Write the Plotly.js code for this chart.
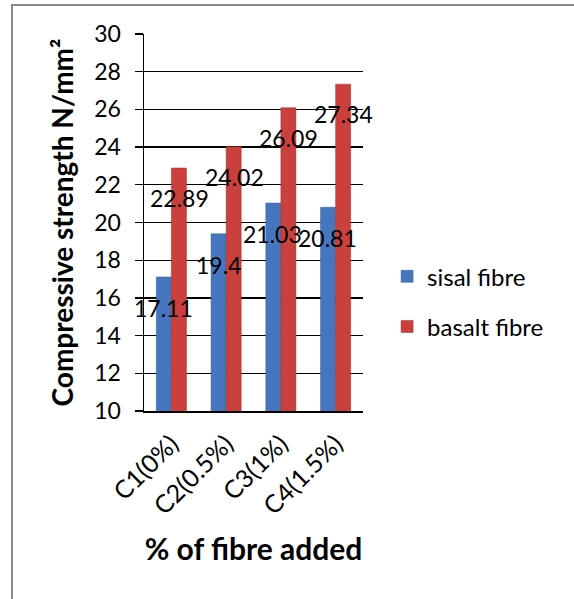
<!DOCTYPE html>
<html><head><meta charset="utf-8">
<script src="https://cdn.plot.ly/plotly-3.0.1.min.js"></script>
<style>
html,body{margin:0;padding:0;background:#fff;}
#wrap{position:relative;width:574px;height:599px;overflow:hidden;}
#chart{position:absolute;left:0;top:0;width:574px;height:599px;}
#frame{position:absolute;left:11px;top:4px;width:600px;height:650px;border-left:2px solid #8c8c8c;border-top:2px solid #8c8c8c;pointer-events:none;}
</style></head>
<body><div id="wrap"><div id="chart"></div><div id="frame"></div></div>
<script>
const categories = ['C1(0%)', 'C2(0.5%)', 'C3(1%)', 'C4(1.5%)'];
const sisal = [17.11, 19.4, 21.03, 20.81];
const basalt = [22.89, 24.02, 26.09, 27.34];
const sisalLabels = ['17.11', '19.4', '21.03', '20.81'];
const basaltLabels = ['22.89', '24.02', '26.09', '27.34'];
const yTicks = [10, 12, 14, 16, 18, 20, 22, 24, 26, 28, 30];

const FONT = 'Lato, Carlito, Calibri, "DejaVu Sans", sans-serif';

const traces = [
  {type:'bar', name:'sisal fibre', x:categories, y:sisal, legendgroup:'a',
   marker:{color:'#4677BE', line:{color:'#2F5C9C', width:0.5}}, hoverinfo:'skip'},
  {type:'bar', name:'basalt fibre', x:categories, y:basalt, legendgroup:'b',
   marker:{color:'#C9403D', line:{color:'#A02C2A', width:0.5}}, hoverinfo:'skip'}
];

const annotations = [];
categories.forEach((c, i) => {
  annotations.push({x:c, y:sisal[i], xref:'x', yref:'y', text:sisalLabels[i], showarrow:false,
    xshift:-8, yshift:-31, font:{family:FONT, size:23, color:'#000'}});
  annotations.push({x:c, y:basalt[i], xref:'x', yref:'y', text:basaltLabels[i], showarrow:false,
    xshift:8, yshift:-30, font:{family:FONT, size:23, color:'#000'}});
});

const layout = {
  width:574, height:599,
  margin:{l:144, r:211, t:34, b:188},
  paper_bgcolor:'rgba(0,0,0,0)', plot_bgcolor:'#fff',
  font:{family:FONT, size:23, color:'#000'},
  barmode:'group', bargap:0.45, bargroupgap:0,
  showlegend:true,
  legend:{x:1.11, xanchor:'left', y:0.29, yanchor:'middle', traceorder:'grouped', tracegroupgap:16,
          font:{family:FONT, size:24, color:'#000'}, itemwidth:30, bgcolor:'rgba(0,0,0,0)'},
  xaxis:{type:'category', range:[-0.5, 3.5], autorange:false, showline:true, linecolor:'#000', linewidth:1.5, ticks:'',
         tickangle:-45, tickfont:{family:FONT, size:25}, ticklabelstandoff:7,
         title:{text:'<b>% of fibre added</b>', font:{family:FONT, size:30}, standoff:20}},
  yaxis:{range:[10,30], autorange:false, tickvals:yTicks, ticktext:yTicks.map(String), showline:true, linecolor:'#000', linewidth:1.5,
         showgrid:true, gridcolor:'#000', gridwidth:1.3, zeroline:false,
         ticks:'outside', ticklen:8, tickcolor:'#000', tickwidth:1.3, ticklabelstandoff:9,
         tickfont:{family:FONT, size:23},
         title:{text:'<b>Compressive strength N/mm²</b>', font:{family:FONT, size:28}, standoff:12}},
  annotations:annotations
};

Plotly.newPlot('chart', traces, layout, {staticPlot:true, displayModeBar:false});
</script></body></html>
